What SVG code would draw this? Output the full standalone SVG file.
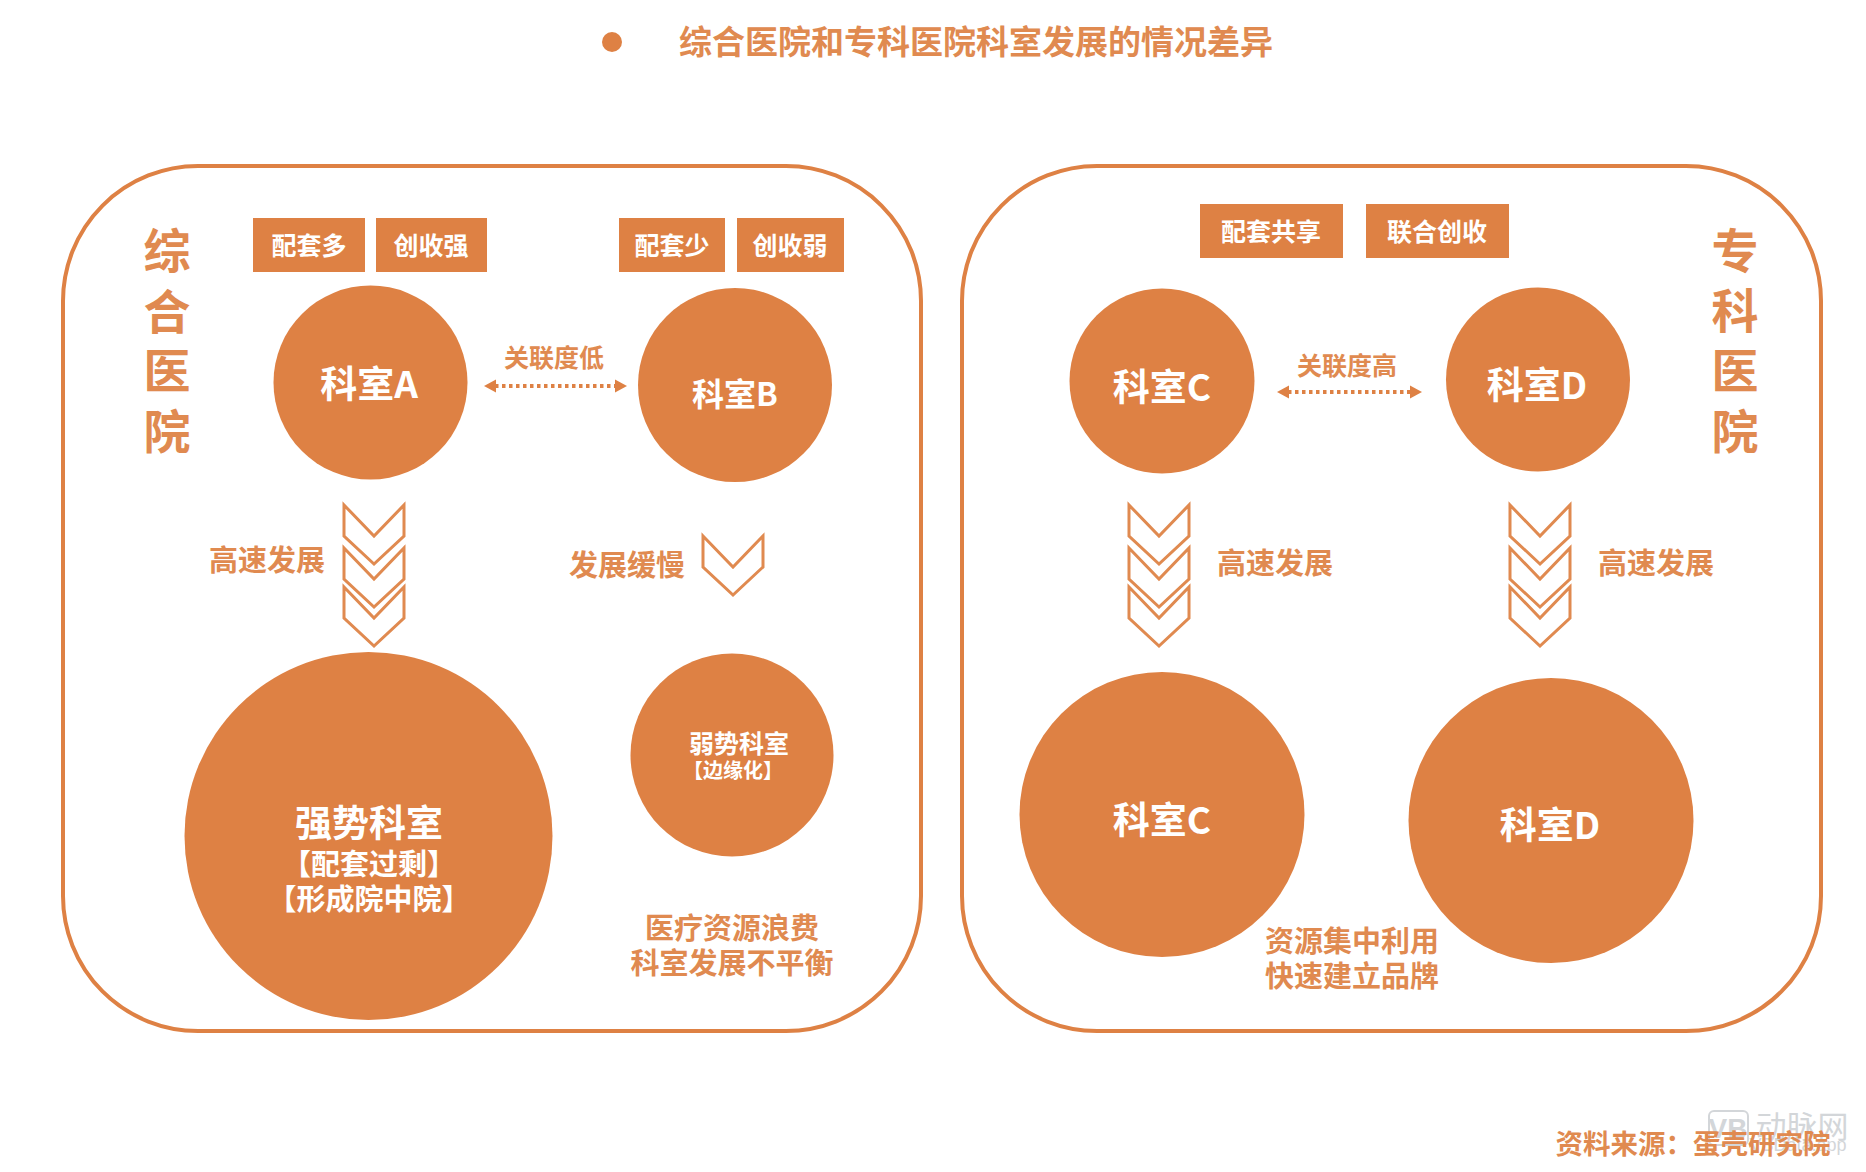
<svg xmlns="http://www.w3.org/2000/svg" width="1866" height="1172" viewBox="0 0 1866 1172">
<style>
text{font-family:"Noto Sans CJK SC","Liberation Sans",sans-serif;text-anchor:middle;dominant-baseline:central;font-weight:700}
.o{fill:#DE8144}
.w{fill:#fff}
.t{fill:#E08A50}
.panel{fill:#fff;stroke:#DE8144;stroke-width:4}
.ch{fill:none;stroke:#E08A50;stroke-width:3}
.wm{fill:#D3D6D9}
.dot{stroke:#DE8144;stroke-width:4;stroke-dasharray:3.500 3.500;marker-start:url(#ah);marker-end:url(#ah)}
</style>
<defs>
<path id="chev" class="ch" d="M-30 0L0 31L30 0V31L0 59L-30 31Z"/>
<marker id="ah" markerWidth="14" markerHeight="14" refX="1" refY="7" orient="auto-start-reverse" markerUnits="userSpaceOnUse"><path d="M0 0.500L12 7L0 13.500Z" fill="#DE8144"/></marker>
</defs>
<rect width="1866" height="1172" fill="#fff"/>
<g id="title">
<circle class="o" cx="612" cy="42" r="10"/>
<text class="t" x="976" y="40" font-size="33">综合医院和专科医院科室发展的情况差异</text>
</g>
<g id="panel-left"><rect class="panel" x="63" y="166" width="858" height="865" rx="135" ry="135"/></g>
<g id="panel-right"><rect class="panel" x="962" y="166" width="859" height="865" rx="135" ry="135"/></g>
<g id="label-general" class="t" font-size="47">
<text x="167" y="247">综</text><text x="167" y="308">合</text><text x="167" y="367">医</text><text x="167" y="428">院</text>
</g>
<g id="label-special" class="t" font-size="47">
<text x="1735" y="247">专</text><text x="1735" y="307">科</text><text x="1735" y="367">医</text><text x="1735" y="428">院</text>
</g>
<g id="box-1"><rect class="o" x="253" y="218" width="112" height="54"/><text class="w" x="309" y="244" font-size="25">配套多</text></g>
<g id="box-2"><rect class="o" x="376" y="218" width="111" height="54"/><text class="w" x="431" y="244" font-size="25">创收强</text></g>
<g id="box-3"><rect class="o" x="619" y="218" width="106" height="54"/><text class="w" x="672" y="244" font-size="25">配套少</text></g>
<g id="box-4"><rect class="o" x="737" y="218" width="107" height="54"/><text class="w" x="790" y="244" font-size="25">创收弱</text></g>
<g id="box-5"><rect class="o" x="1200" y="204" width="143" height="54"/><text class="w" x="1271" y="230" font-size="25">配套共享</text></g>
<g id="box-6"><rect class="o" x="1366" y="204" width="143" height="54"/><text class="w" x="1437" y="230" font-size="25">联合创收</text></g>
<g id="node-a"><circle class="o" cx="370.500" cy="382.500" r="97"/><text class="w" x="369" y="382" font-size="37">科室A</text></g>
<g id="node-b"><circle class="o" cx="735" cy="385" r="97"/><text class="w" x="735" y="392" font-size="32">科室B</text></g>
<g id="node-c"><circle class="o" cx="1162" cy="381" r="92.500"/><text class="w" x="1162" y="385" font-size="37">科室C</text></g>
<g id="node-d"><circle class="o" cx="1538" cy="379.500" r="92"/><text class="w" x="1537" y="383" font-size="37">科室D</text></g>
<g id="node-strong"><circle class="o" cx="368.500" cy="836" r="184"/>
<text class="w" x="369" y="821" font-size="37">强势科室</text>
<text class="w" x="369" y="862" font-size="29">【配套过剩】</text>
<text class="w" x="369" y="897" font-size="29">【形成院中院】</text></g>
<g id="node-weak"><circle class="o" cx="732" cy="755" r="101.500"/>
<text class="w" x="739" y="742" font-size="25">弱势科室</text>
<text class="w" x="733" y="769" font-size="20">【边缘化】</text></g>
<g id="node-c2"><circle class="o" cx="1162" cy="814.500" r="142.500"/><text class="w" x="1162" y="818" font-size="37">科室C</text></g>
<g id="node-d2"><circle class="o" cx="1551" cy="820.500" r="142.500"/><text class="w" x="1550" y="823" font-size="37">科室D</text></g>
<g id="connectors">
<line class="dot" x1="495" y1="386" x2="616" y2="386"/>
<line class="dot" x1="1288" y1="392" x2="1411" y2="392"/>
<use href="#chev" x="374" y="505"/><use href="#chev" x="374" y="548"/><use href="#chev" x="374" y="587"/>
<use href="#chev" x="733" y="536"/>
<use href="#chev" x="1159" y="505"/><use href="#chev" x="1159" y="548"/><use href="#chev" x="1159" y="587"/>
<use href="#chev" x="1540" y="505"/><use href="#chev" x="1540" y="548"/><use href="#chev" x="1540" y="587"/>
</g>
<g id="labels" class="t">
<text x="554" y="356" font-size="25">关联度低</text>
<text x="1347" y="364" font-size="25">关联度高</text>
<text x="267" y="558" font-size="29">高速发展</text>
<text x="627" y="563" font-size="29">发展缓慢</text>
<text x="1275" y="561" font-size="29">高速发展</text>
<text x="1656" y="561" font-size="29">高速发展</text>
<text x="732" y="926" font-size="29">医疗资源浪费</text>
<text x="732" y="961" font-size="29">科室发展不平衡</text>
<text x="1352" y="939" font-size="29">资源集中利用</text>
<text x="1352" y="974" font-size="29">快速建立品牌</text>
</g>
<g id="watermark">
<rect x="1709" y="1111" width="39" height="34" rx="5" fill="none" stroke="#D3D6D9" stroke-width="2"/>
<text class="wm" x="1728" y="1128" font-size="28" style="font-family:'Liberation Sans',sans-serif">VB</text>
<text class="wm" x="1802" y="1124" font-size="31" style="font-weight:400">动脉网</text>
<text class="wm" x="1798" y="1145" font-size="18" style="font-family:'Liberation Sans',sans-serif;font-weight:400">VBData.app</text>
</g>
<g id="source"><text class="t" x="1693" y="1142" font-size="27.500">资料来源：蛋壳研究院</text></g>
</svg>
